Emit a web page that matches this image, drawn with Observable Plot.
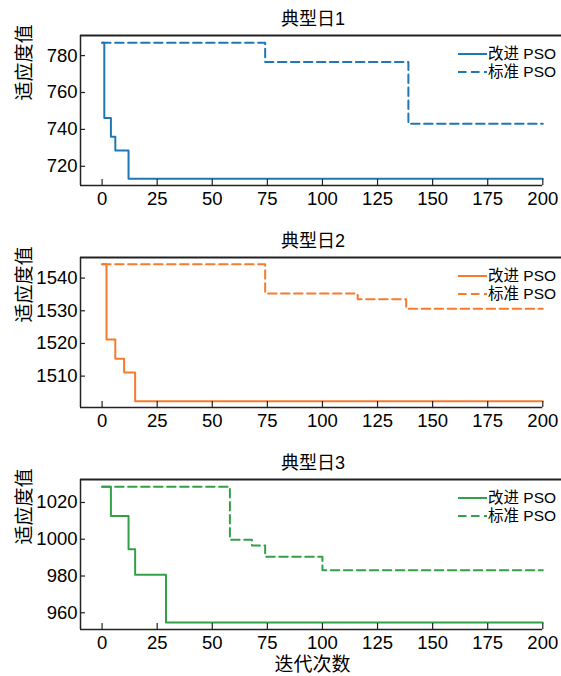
<!DOCTYPE html>
<html>
<head>
<meta charset="utf-8">
<script src="https://cdn.jsdelivr.net/npm/d3@7"></script>
<script src="https://cdn.jsdelivr.net/npm/@observablehq/plot@0.6"></script>
<style>
  html, body { margin: 0; padding: 0; background: #fff; }
  #chart svg { display: block; }
</style>
</head>
<body>
<div id="chart"></div>
<script>
// ---- data (iteration where value changes, best fitness) ----
const titles = ["典型日1", "典型日2", "典型日3"];
const seriesNames = ["改进 PSO", "标准 PSO"];
const colors = ["#1f77b4", "#f67b2c", "#33a047"];

const day1ImprovedX = [0, 1, 4, 6, 12, 200];
const day1ImprovedY = [787, 746.2, 736, 728.6, 713.2, 713.2];
const day1StandardX = [0, 74, 139, 200];
const day1StandardY = [787, 776.6, 743.1, 743.1];

const day2ImprovedX = [0, 2, 6, 10, 15, 200];
const day2ImprovedY = [1544.2, 1521.2, 1515.3, 1511.1, 1502.3, 1502.3];
const day2StandardX = [0, 74, 116, 138, 200];
const day2StandardY = [1544.2, 1535.3, 1533.5, 1530.6, 1530.6];

const day3ImprovedX = [0, 4, 12, 15, 29, 200];
const day3ImprovedY = [1028.5, 1012.7, 994.6, 980.7, 954.7, 954.7];
const day3StandardX = [0, 58, 68, 74, 100, 200];
const day3StandardY = [1028.5, 999.7, 996.6, 990.5, 983.2, 983.2];

const xTicks = [0, 25, 50, 75, 100, 125, 150, 175, 200];
const yTicks1 = [720, 740, 760, 780];
const yTicks2 = [1510, 1520, 1530, 1540];
const yTicks3 = [960, 980, 1000, 1020];

const yDomain1 = [709.6, 790.9];
const yDomain2 = [1500.4, 1546.3];
const yDomain3 = [950.9, 1032.5];
const xDomain = [-9.8, 200];

const yLabel = "适应度值";
const xLabel = "迭代次数";

// ---- build ----
const FONT = "'Liberation Sans', Arial, 'Noto Sans CJK SC', sans-serif";
const W = 561, ML = 80, MT = 35, PH = 150;
const xRangeRight = 542.3;

function rows(xs, ys, name) {
  return xs.map((x, i) => ({x, y: ys[i], name}));
}

const panels = [
  {title: titles[0], imp: rows(day1ImprovedX, day1ImprovedY, seriesNames[0]), std: rows(day1StandardX, day1StandardY, seriesNames[1]), yTicks: yTicks1, yDomain: yDomain1, color: colors[0], height: 222, xlab: false},
  {title: titles[1], imp: rows(day2ImprovedX, day2ImprovedY, seriesNames[0]), std: rows(day2StandardX, day2StandardY, seriesNames[1]), yTicks: yTicks2, yDomain: yDomain2, color: colors[1], height: 222, xlab: false},
  {title: titles[2], imp: rows(day3ImprovedX, day3ImprovedY, seriesNames[0]), std: rows(day3StandardX, day3StandardY, seriesNames[1]), yTicks: yTicks3, yDomain: yDomain3, color: colors[2], height: 232, xlab: true}
];

const container = document.getElementById("chart");
const spine = "#222";
const fmt = d3.format("d");

panels.forEach(p => {
  const frameW = W - ML;
  const marks = [
    // series
    Plot.line(p.std, {x: "x", y: "y", curve: "step-after", stroke: p.color, strokeWidth: 2, strokeDasharray: "8.5,4.5"}),
    Plot.line(p.imp, {x: "x", y: "y", curve: "step-after", stroke: p.color, strokeWidth: 2}),
    // spines
    Plot.ruleX([xDomain[0]], {stroke: spine, strokeWidth: 1.5}),
    Plot.ruleY([p.yDomain[1]], {stroke: spine, strokeWidth: 1.8}),
    Plot.ruleY([p.yDomain[0]], {x1: xDomain[0], x2: xDomain[1], stroke: spine, strokeWidth: 1.5}),
    // inward ticks
    Plot.tickY(p.yTicks, {y: d => d, stroke: spine, strokeWidth: 1.2, insetRight: frameW - 5}),
    Plot.tickX(xTicks, {x: d => d, stroke: spine, strokeWidth: 1.2, insetTop: PH - 6}),
    // axes labels (tick text)
    Plot.axisY(p.yTicks, {tickSize: 0, tickPadding: 3, fontSize: 18.5, fill: "#000", label: null, tickFormat: fmt}),
    Plot.axisX(xTicks, {tickSize: 0, tickPadding: 6, fontSize: 18.5, fill: "#000", label: null, tickFormat: fmt}),
    // title
    Plot.text([p.title], {frameAnchor: "top", dx: -8, dy: -16.5, lineAnchor: "middle", fontSize: 18, fill: "#000"}),
    // y label
    Plot.text([yLabel], {frameAnchor: "left", dx: -56, dy: -10, rotate: -90, fontSize: 19, fill: "#000", lineAnchor: "middle"})
  ];
  if (p.xlab) {
    marks.push(Plot.text([xLabel], {frameAnchor: "bottom", dx: -8.5, dy: 35, lineAnchor: "middle", fontSize: 19, fill: "#000"}));
  }
  const svg = Plot.plot({
    width: W,
    height: p.height,
    marginLeft: ML,
    marginRight: 0,
    marginTop: MT,
    marginBottom: p.height - MT - PH,
    style: {fontFamily: FONT, background: "#fff", color: "#000"},
    x: {domain: xDomain, range: [ML, xRangeRight], axis: null},
    y: {domain: p.yDomain, axis: null},
    marks
  });

  // legend
  const s = d3.select(svg);
  const g = s.append("g").attr("font-family", FONT).attr("font-size", 15.5).attr("text-anchor", "start");
  [{name: seriesNames[0], dash: "none", dy: 19}, {name: seriesNames[1], dash: "8.5,4.5", dy: 37}].forEach(item => {
    const y = MT + item.dy;
    g.append("path").attr("d", `M458,${y}H487`)
      .attr("fill", "none")
      .attr("stroke", p.color).attr("stroke-width", 2)
      .attr("stroke-dasharray", item.dash);
    g.append("text").attr("x", 488).attr("y", y).attr("dy", "0.35em")
      .attr("fill", "#000").text(item.name);
  });

  container.appendChild(svg);
});
</script>
</body>
</html>
